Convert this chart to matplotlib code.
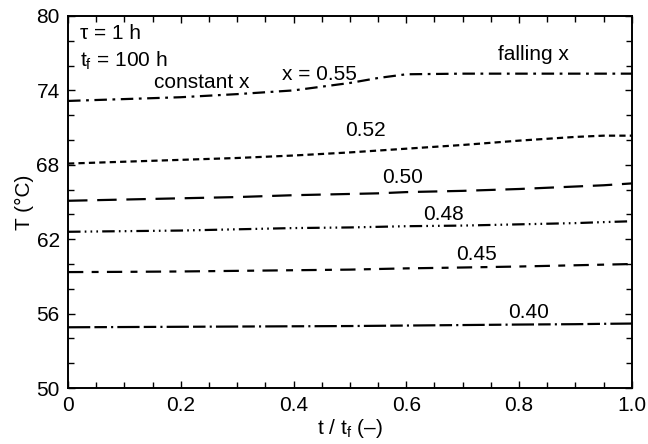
import matplotlib
matplotlib.use("Agg")
import matplotlib.pyplot as plt
from matplotlib.ticker import MultipleLocator

plt.rcParams['font.family'] = ['Liberation Sans', 'DejaVu Sans']
plt.rcParams['mathtext.fontset'] = 'custom'
plt.rcParams['mathtext.rm'] = 'Liberation Sans'
plt.rcParams['mathtext.it'] = 'Liberation Sans:italic'
plt.rcParams['lines.scale_dashes'] = False

t = [0.0, 0.1, 0.2, 0.3, 0.4, 0.5, 0.55, 0.6, 0.7, 0.8, 0.9, 0.95, 1.0]
T_055 = [73.15, 73.3, 73.45, 73.7, 74.0, 74.6, 75.0, 75.3, 75.35, 75.35, 75.35, 75.35, 75.35]
T_052 = [68.1, 68.25, 68.4, 68.55, 68.75, 69.0, 69.15, 69.3, 69.6, 69.95, 70.25, 70.35, 70.35]
T_050 = [65.1, 65.2, 65.3, 65.4, 65.55, 65.65, 65.7, 65.8, 65.9, 66.05, 66.25, 66.35, 66.5]
T_048 = [62.6, 62.65, 62.7, 62.8, 62.9, 62.95, 63.0, 63.05, 63.1, 63.2, 63.3, 63.38, 63.45]
T_045 = [59.35, 59.37, 59.4, 59.45, 59.5, 59.55, 59.6, 59.65, 59.72, 59.8, 59.9, 59.95, 60.0]
T_040 = [54.9, 54.92, 54.94, 54.96, 54.98, 55.0, 55.02, 55.04, 55.08, 55.12, 55.15, 55.18, 55.2]

series = [
    (T_055, (0, (9, 4, 2, 4))),
    (T_052, (0, (4.5, 3))),
    (T_050, (0, (14, 7))),
    (T_048, (0, (9, 3, 1.2, 3, 1.2, 3, 1.2, 3))),
    (T_045, (0, (11, 6, 5, 6))),
    (T_040, (0, (16, 3, 9, 3, 1.5, 3))),
]

fig = plt.figure(figsize=(6.48, 4.44), dpi=100)
ax = fig.add_axes([0.105, 0.126, 0.87, 0.838])

for vals, ls in series:
    ax.plot(t, vals, color='black', lw=1.6, linestyle=ls)

fs = 15
ax.text(0.022, 78.6, "τ = 1 h", fontsize=fs, va='center')
ax.text(0.022, 76.4, r"t$_\mathrm{f}$ = 100 h", fontsize=fs, va='center')
ax.text(0.153, 74.6, "constant x", fontsize=fs, va='center')
ax.text(0.38, 75.25, "x = 0.55", fontsize=fs, va='center')
ax.text(0.762, 76.9, "falling x", fontsize=fs, va='center')
ax.text(0.492, 70.8, "0.52", fontsize=fs, va='center')
ax.text(0.558, 67.0, "0.50", fontsize=fs, va='center')
ax.text(0.63, 64.0, "0.48", fontsize=fs, va='center')
ax.text(0.688, 60.8, "0.45", fontsize=fs, va='center')
ax.text(0.78, 56.1, "0.40", fontsize=fs, va='center')

ax.set_xlim(0, 1.0)
ax.set_ylim(50, 80)
ax.set_xticks([0, 0.2, 0.4, 0.6, 0.8, 1.0])
ax.set_xticklabels(['0', '0.2', '0.4', '0.6', '0.8', '1.0'])
ax.set_yticks([50, 56, 62, 68, 74, 80])
ax.xaxis.set_minor_locator(MultipleLocator(0.05))
ax.yaxis.set_minor_locator(MultipleLocator(2))
ax.tick_params(which='both', direction='in', top=True, right=True, labelsize=fs, width=1.0)
ax.tick_params(which='major', length=5, pad=6)
ax.tick_params(which='minor', length=4)
for s in ax.spines.values():
    s.set_linewidth(1.4)

ax.set_xlabel(r"t / t$_\mathrm{f}$ (–)", fontsize=fs, labelpad=1)
ax.set_ylabel("T (°C)", fontsize=fs, labelpad=2)

fig.savefig("out.png", dpi=100)
